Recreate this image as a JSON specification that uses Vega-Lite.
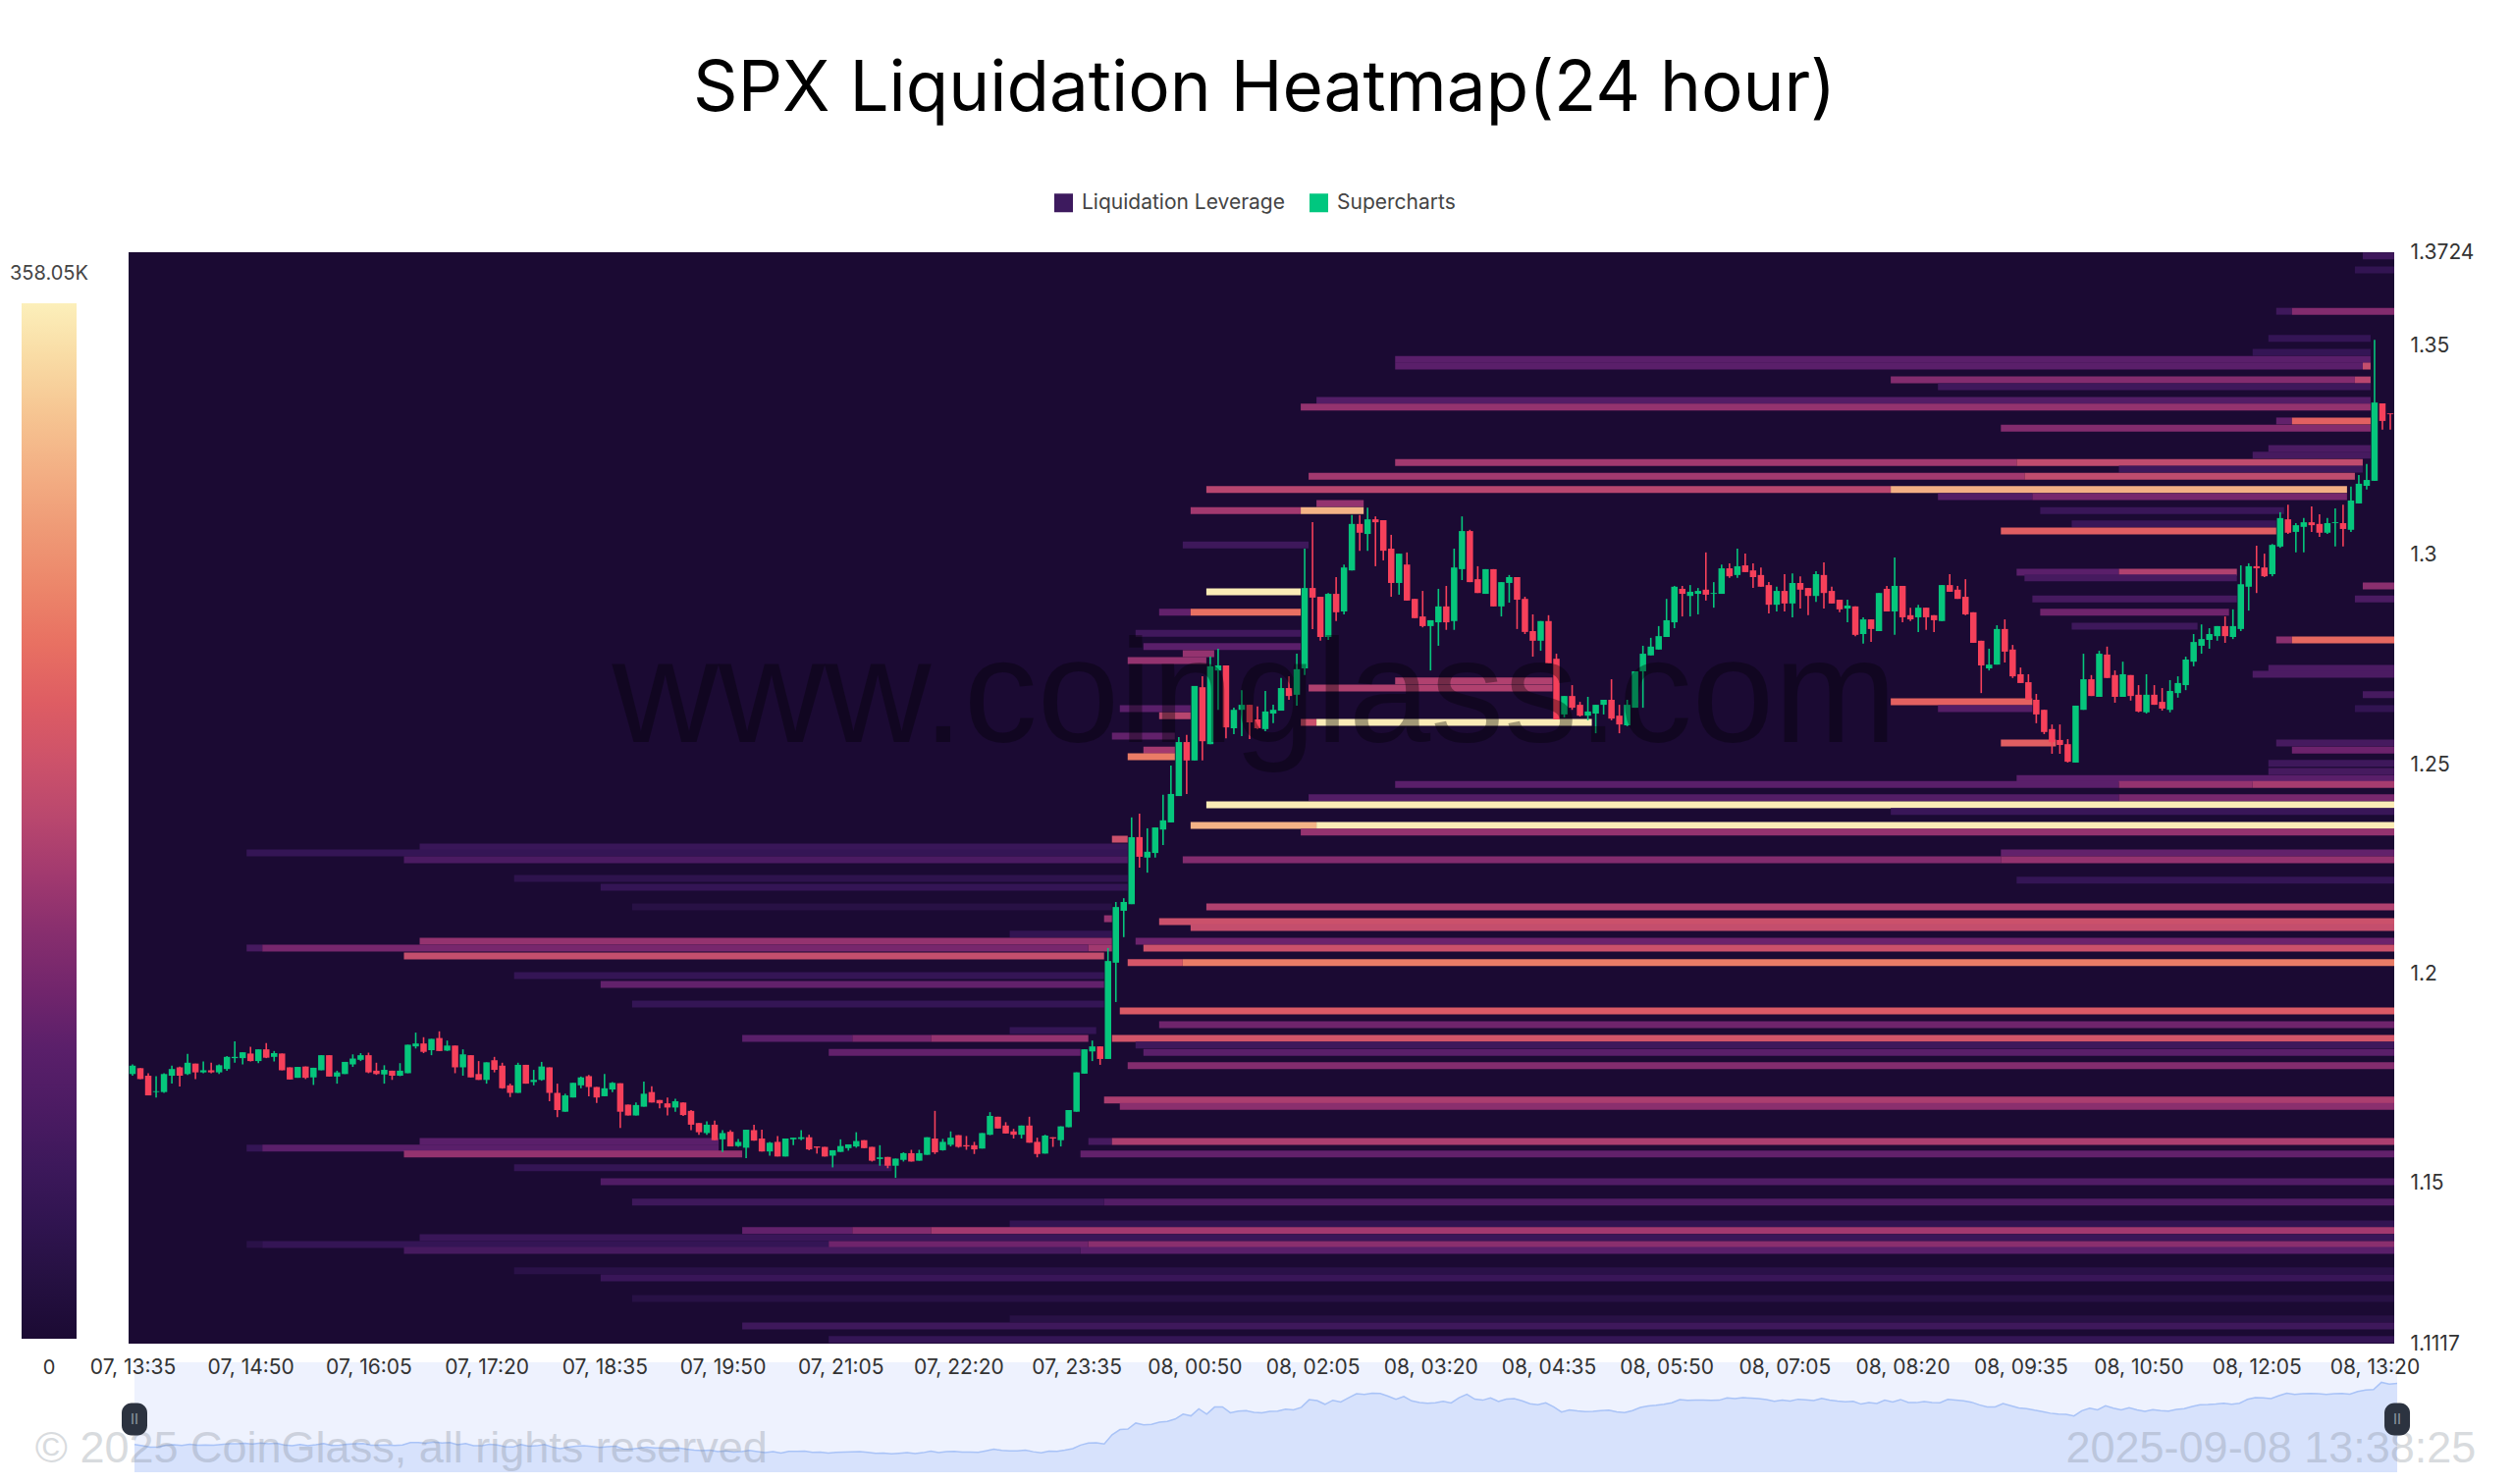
{"$schema":"https://vega.github.io/schema/vega-lite/v6.json","background":"white","padding":{"left":10,"top":56,"right":0,"bottom":0},
"title":{"text":"SPX Liquidation Heatmap(24 hour)","font":"Inter","fontSize":71,"fontWeight":400,"color":"#000000","anchor":"middle","offset":68,"dx":22},
"config":{"view":{"stroke":null},"font":"Inter"},
"datasets":{"candles":[
{"t":"2025-09-07T13:35Z","o":1.1761,"h":1.1784,"l":1.1757,"c":1.1781},{"t":"2025-09-07T13:40Z","o":1.1775,"h":1.1775,"l":1.1749,"c":1.1749},{"t":"2025-09-07T13:45Z","o":1.1757,"h":1.1763,"l":1.1710,"c":1.1710},{"t":"2025-09-07T13:50Z","o":1.1718,"h":1.1756,"l":1.1705,"c":1.1720},{"t":"2025-09-07T13:55Z","o":1.1718,"h":1.1763,"l":1.1716,"c":1.1761},
{"t":"2025-09-07T14:00Z","o":1.1757,"h":1.1781,"l":1.1738,"c":1.1773},{"t":"2025-09-07T14:05Z","o":1.1777,"h":1.1779,"l":1.1731,"c":1.1757},{"t":"2025-09-07T14:10Z","o":1.1761,"h":1.1809,"l":1.1759,"c":1.1788},{"t":"2025-09-07T14:15Z","o":1.1786,"h":1.1786,"l":1.1749,"c":1.1765},{"t":"2025-09-07T14:20Z","o":1.1765,"h":1.1791,"l":1.1763,"c":1.1770},{"t":"2025-09-07T14:25Z","o":1.1770,"h":1.1788,"l":1.1763,"c":1.1765},{"t":"2025-09-07T14:30Z","o":1.1765,"h":1.1784,"l":1.1761,"c":1.1782},{"t":"2025-09-07T14:35Z","o":1.1773,"h":1.1804,"l":1.1769,"c":1.1802},{"t":"2025-09-07T14:40Z","o":1.1799,"h":1.1839,"l":1.1788,"c":1.1802},{"t":"2025-09-07T14:45Z","o":1.1799,"h":1.1813,"l":1.1784,"c":1.1813},{"t":"2025-09-07T14:50Z","o":1.1810,"h":1.1826,"l":1.1791,"c":1.1792},{"t":"2025-09-07T14:55Z","o":1.1792,"h":1.1820,"l":1.1787,"c":1.1820},
{"t":"2025-09-07T15:00Z","o":1.1820,"h":1.1835,"l":1.1799,"c":1.1800},{"t":"2025-09-07T15:05Z","o":1.1802,"h":1.1816,"l":1.1791,"c":1.1811},{"t":"2025-09-07T15:10Z","o":1.1810,"h":1.1810,"l":1.1770,"c":1.1770},{"t":"2025-09-07T15:15Z","o":1.1777,"h":1.1777,"l":1.1748,"c":1.1748},{"t":"2025-09-07T15:20Z","o":1.1752,"h":1.1778,"l":1.1752,"c":1.1778},{"t":"2025-09-07T15:25Z","o":1.1779,"h":1.1779,"l":1.1749,"c":1.1752},{"t":"2025-09-07T15:30Z","o":1.1753,"h":1.1776,"l":1.1735,"c":1.1776},{"t":"2025-09-07T15:35Z","o":1.1770,"h":1.1806,"l":1.1770,"c":1.1806},{"t":"2025-09-07T15:40Z","o":1.1806,"h":1.1806,"l":1.1755,"c":1.1755},{"t":"2025-09-07T15:45Z","o":1.1755,"h":1.1769,"l":1.1738,"c":1.1765},{"t":"2025-09-07T15:50Z","o":1.1761,"h":1.1790,"l":1.1761,"c":1.1790},{"t":"2025-09-07T15:55Z","o":1.1784,"h":1.1808,"l":1.1778,"c":1.1798},
{"t":"2025-09-07T16:00Z","o":1.1795,"h":1.1811,"l":1.1792,"c":1.1806},{"t":"2025-09-07T16:05Z","o":1.1806,"h":1.1812,"l":1.1763,"c":1.1765},{"t":"2025-09-07T16:10Z","o":1.1769,"h":1.1788,"l":1.1759,"c":1.1761},{"t":"2025-09-07T16:15Z","o":1.1760,"h":1.1782,"l":1.1738,"c":1.1771},{"t":"2025-09-07T16:20Z","o":1.1769,"h":1.1769,"l":1.1747,"c":1.1757},{"t":"2025-09-07T16:25Z","o":1.1757,"h":1.1787,"l":1.1756,"c":1.1769},{"t":"2025-09-07T16:30Z","o":1.1763,"h":1.1831,"l":1.1763,"c":1.1831},{"t":"2025-09-07T16:35Z","o":1.1827,"h":1.1860,"l":1.1822,"c":1.1834},{"t":"2025-09-07T16:40Z","o":1.1834,"h":1.1849,"l":1.1811,"c":1.1814},{"t":"2025-09-07T16:45Z","o":1.1818,"h":1.1845,"l":1.1806,"c":1.1845},{"t":"2025-09-07T16:50Z","o":1.1847,"h":1.1863,"l":1.1816,"c":1.1816},{"t":"2025-09-07T16:55Z","o":1.1817,"h":1.1841,"l":1.1816,"c":1.1829},
{"t":"2025-09-07T17:00Z","o":1.1829,"h":1.1829,"l":1.1763,"c":1.1777},{"t":"2025-09-07T17:05Z","o":1.1777,"h":1.1820,"l":1.1757,"c":1.1808},{"t":"2025-09-07T17:10Z","o":1.1806,"h":1.1806,"l":1.1753,"c":1.1753},{"t":"2025-09-07T17:15Z","o":1.1761,"h":1.1792,"l":1.1747,"c":1.1747},{"t":"2025-09-07T17:20Z","o":1.1747,"h":1.1789,"l":1.1738,"c":1.1789},{"t":"2025-09-07T17:25Z","o":1.1794,"h":1.1802,"l":1.1765,"c":1.1771},{"t":"2025-09-07T17:30Z","o":1.1781,"h":1.1788,"l":1.1726,"c":1.1727},{"t":"2025-09-07T17:35Z","o":1.1734,"h":1.1738,"l":1.1706,"c":1.1716},{"t":"2025-09-07T17:40Z","o":1.1716,"h":1.1788,"l":1.1716,"c":1.1783},{"t":"2025-09-07T17:45Z","o":1.1783,"h":1.1783,"l":1.1738,"c":1.1738},{"t":"2025-09-07T17:50Z","o":1.1742,"h":1.1771,"l":1.1734,"c":1.1747},{"t":"2025-09-07T17:55Z","o":1.1747,"h":1.1790,"l":1.1745,"c":1.1779},
{"t":"2025-09-07T18:00Z","o":1.1777,"h":1.1777,"l":1.1696,"c":1.1716},{"t":"2025-09-07T18:05Z","o":1.1716,"h":1.1738,"l":1.1658,"c":1.1675},{"t":"2025-09-07T18:10Z","o":1.1671,"h":1.1714,"l":1.1671,"c":1.1710},{"t":"2025-09-07T18:15Z","o":1.1705,"h":1.1740,"l":1.1705,"c":1.1740},{"t":"2025-09-07T18:20Z","o":1.1734,"h":1.1755,"l":1.1727,"c":1.1753},{"t":"2025-09-07T18:25Z","o":1.1756,"h":1.1759,"l":1.1708,"c":1.1730},{"t":"2025-09-07T18:30Z","o":1.1730,"h":1.1730,"l":1.1692,"c":1.1705},{"t":"2025-09-07T18:35Z","o":1.1708,"h":1.1761,"l":1.1708,"c":1.1727},{"t":"2025-09-07T18:40Z","o":1.1724,"h":1.1742,"l":1.1718,"c":1.1740},{"t":"2025-09-07T18:45Z","o":1.1739,"h":1.1739,"l":1.1632,"c":1.1671},{"t":"2025-09-07T18:50Z","o":1.1688,"h":1.1688,"l":1.1662,"c":1.1662},{"t":"2025-09-07T18:55Z","o":1.1662,"h":1.1693,"l":1.1662,"c":1.1687},
{"t":"2025-09-07T19:00Z","o":1.1683,"h":1.1743,"l":1.1683,"c":1.1714},{"t":"2025-09-07T19:05Z","o":1.1718,"h":1.1732,"l":1.1693,"c":1.1693},{"t":"2025-09-07T19:10Z","o":1.1699,"h":1.1699,"l":1.1679,"c":1.1691},{"t":"2025-09-07T19:15Z","o":1.1691,"h":1.1705,"l":1.1662,"c":1.1681},{"t":"2025-09-07T19:20Z","o":1.1681,"h":1.1702,"l":1.1671,"c":1.1696},{"t":"2025-09-07T19:25Z","o":1.1693,"h":1.1693,"l":1.1661,"c":1.1663},{"t":"2025-09-07T19:30Z","o":1.1673,"h":1.1675,"l":1.1627,"c":1.1640},{"t":"2025-09-07T19:35Z","o":1.1644,"h":1.1644,"l":1.1616,"c":1.1622},{"t":"2025-09-07T19:40Z","o":1.1620,"h":1.1648,"l":1.1616,"c":1.1640},{"t":"2025-09-07T19:45Z","o":1.1640,"h":1.1650,"l":1.1603,"c":1.1603},{"t":"2025-09-07T19:50Z","o":1.1605,"h":1.1627,"l":1.1575,"c":1.1620},{"t":"2025-09-07T19:55Z","o":1.1623,"h":1.1627,"l":1.1588,"c":1.1588},
{"t":"2025-09-07T20:00Z","o":1.1589,"h":1.1606,"l":1.1587,"c":1.1599},{"t":"2025-09-07T20:05Z","o":1.1585,"h":1.1628,"l":1.1560,"c":1.1628},{"t":"2025-09-07T20:10Z","o":1.1627,"h":1.1640,"l":1.1602,"c":1.1602},{"t":"2025-09-07T20:15Z","o":1.1607,"h":1.1628,"l":1.1576,"c":1.1576},{"t":"2025-09-07T20:20Z","o":1.1576,"h":1.1599,"l":1.1566,"c":1.1597},{"t":"2025-09-07T20:25Z","o":1.1599,"h":1.1613,"l":1.1564,"c":1.1564},{"t":"2025-09-07T20:30Z","o":1.1564,"h":1.1607,"l":1.1564,"c":1.1607},{"t":"2025-09-07T20:35Z","o":1.1605,"h":1.1609,"l":1.1591,"c":1.1609},{"t":"2025-09-07T20:40Z","o":1.1606,"h":1.1627,"l":1.1603,"c":1.1610},{"t":"2025-09-07T20:45Z","o":1.1610,"h":1.1616,"l":1.1579,"c":1.1581},{"t":"2025-09-07T20:50Z","o":1.1588,"h":1.1588,"l":1.1571,"c":1.1585},{"t":"2025-09-07T20:55Z","o":1.1587,"h":1.1587,"l":1.1564,"c":1.1564},
{"t":"2025-09-07T21:00Z","o":1.1566,"h":1.1579,"l":1.1538,"c":1.1579},{"t":"2025-09-07T21:05Z","o":1.1575,"h":1.1605,"l":1.1575,"c":1.1589},{"t":"2025-09-07T21:10Z","o":1.1584,"h":1.1593,"l":1.1578,"c":1.1593},{"t":"2025-09-07T21:15Z","o":1.1588,"h":1.1622,"l":1.1585,"c":1.1601},{"t":"2025-09-07T21:20Z","o":1.1603,"h":1.1603,"l":1.1584,"c":1.1584},{"t":"2025-09-07T21:25Z","o":1.1587,"h":1.1587,"l":1.1552,"c":1.1554},{"t":"2025-09-07T21:30Z","o":1.1558,"h":1.1591,"l":1.1542,"c":1.1562},{"t":"2025-09-07T21:35Z","o":1.1563,"h":1.1563,"l":1.1536,"c":1.1542},{"t":"2025-09-07T21:40Z","o":1.1542,"h":1.1559,"l":1.1513,"c":1.1559},{"t":"2025-09-07T21:45Z","o":1.1556,"h":1.1574,"l":1.1552,"c":1.1572},{"t":"2025-09-07T21:50Z","o":1.1572,"h":1.1580,"l":1.1552,"c":1.1552},{"t":"2025-09-07T21:55Z","o":1.1554,"h":1.1580,"l":1.1554,"c":1.1572},
{"t":"2025-09-07T22:00Z","o":1.1568,"h":1.1610,"l":1.1568,"c":1.1610},{"t":"2025-09-07T22:05Z","o":1.1607,"h":1.1673,"l":1.1570,"c":1.1574},{"t":"2025-09-07T22:10Z","o":1.1579,"h":1.1606,"l":1.1578,"c":1.1599},{"t":"2025-09-07T22:15Z","o":1.1592,"h":1.1624,"l":1.1588,"c":1.1609},{"t":"2025-09-07T22:20Z","o":1.1615,"h":1.1615,"l":1.1585,"c":1.1587},{"t":"2025-09-07T22:25Z","o":1.1591,"h":1.1613,"l":1.1580,"c":1.1588},{"t":"2025-09-07T22:30Z","o":1.1591,"h":1.1599,"l":1.1570,"c":1.1581},{"t":"2025-09-07T22:35Z","o":1.1583,"h":1.1620,"l":1.1583,"c":1.1620},{"t":"2025-09-07T22:40Z","o":1.1616,"h":1.1670,"l":1.1615,"c":1.1661},{"t":"2025-09-07T22:45Z","o":1.1659,"h":1.1659,"l":1.1631,"c":1.1631},{"t":"2025-09-07T22:50Z","o":1.1638,"h":1.1646,"l":1.1619,"c":1.1619},{"t":"2025-09-07T22:55Z","o":1.1624,"h":1.1630,"l":1.1607,"c":1.1616},
{"t":"2025-09-07T23:00Z","o":1.1616,"h":1.1638,"l":1.1607,"c":1.1638},{"t":"2025-09-07T23:05Z","o":1.1638,"h":1.1659,"l":1.1597,"c":1.1597},{"t":"2025-09-07T23:10Z","o":1.1599,"h":1.1609,"l":1.1562,"c":1.1570},{"t":"2025-09-07T23:15Z","o":1.1571,"h":1.1616,"l":1.1571,"c":1.1614},{"t":"2025-09-07T23:20Z","o":1.1610,"h":1.1610,"l":1.1587,"c":1.1607},{"t":"2025-09-07T23:25Z","o":1.1603,"h":1.1636,"l":1.1588,"c":1.1636},{"t":"2025-09-07T23:30Z","o":1.1634,"h":1.1675,"l":1.1634,"c":1.1675},{"t":"2025-09-07T23:35Z","o":1.1671,"h":1.1765,"l":1.1671,"c":1.1765},{"t":"2025-09-07T23:40Z","o":1.1762,"h":1.1820,"l":1.1762,"c":1.1820},{"t":"2025-09-07T23:45Z","o":1.1815,"h":1.1841,"l":1.1792,"c":1.1827},{"t":"2025-09-07T23:50Z","o":1.1827,"h":1.1827,"l":1.1783,"c":1.1797},{"t":"2025-09-07T23:55Z","o":1.1797,"h":1.2062,"l":1.1797,"c":1.2031},
{"t":"2025-09-08T00:00Z","o":1.2027,"h":1.2172,"l":1.1933,"c":1.2160},{"t":"2025-09-08T00:05Z","o":1.2151,"h":1.2181,"l":1.2088,"c":1.2172},{"t":"2025-09-08T00:10Z","o":1.2167,"h":1.2374,"l":1.2167,"c":1.2327},{"t":"2025-09-08T00:15Z","o":1.2327,"h":1.2383,"l":1.2254,"c":1.2280},{"t":"2025-09-08T00:20Z","o":1.2278,"h":1.2348,"l":1.2242,"c":1.2292},{"t":"2025-09-08T00:25Z","o":1.2289,"h":1.2350,"l":1.2278,"c":1.2350},{"t":"2025-09-08T00:30Z","o":1.2345,"h":1.2428,"l":1.2308,"c":1.2367},{"t":"2025-09-08T00:35Z","o":1.2362,"h":1.2498,"l":1.2362,"c":1.2430},{"t":"2025-09-08T00:40Z","o":1.2425,"h":1.2566,"l":1.2425,"c":1.2554},{"t":"2025-09-08T00:45Z","o":1.2554,"h":1.2571,"l":1.2430,"c":1.2510},{"t":"2025-09-08T00:50Z","o":1.2510,"h":1.2688,"l":1.2510,"c":1.2688},{"t":"2025-09-08T00:55Z","o":1.2685,"h":1.2711,"l":1.2510,"c":1.2556},
{"t":"2025-09-08T01:00Z","o":1.2549,"h":1.2758,"l":1.2549,"c":1.2735},{"t":"2025-09-08T01:05Z","o":1.2725,"h":1.2777,"l":1.2631,"c":1.2737},{"t":"2025-09-08T01:10Z","o":1.2737,"h":1.2737,"l":1.2563,"c":1.2589},{"t":"2025-09-08T01:15Z","o":1.2587,"h":1.2636,"l":1.2573,"c":1.2631},{"t":"2025-09-08T01:20Z","o":1.2631,"h":1.2678,"l":1.2568,"c":1.2643},{"t":"2025-09-08T01:25Z","o":1.2643,"h":1.2643,"l":1.2561,"c":1.2601},{"t":"2025-09-08T01:30Z","o":1.2608,"h":1.2639,"l":1.2585,"c":1.2587},{"t":"2025-09-08T01:35Z","o":1.2585,"h":1.2676,"l":1.2580,"c":1.2627},{"t":"2025-09-08T01:40Z","o":1.2622,"h":1.2643,"l":1.2599,"c":1.2631},{"t":"2025-09-08T01:45Z","o":1.2629,"h":1.2707,"l":1.2629,"c":1.2683},{"t":"2025-09-08T01:50Z","o":1.2683,"h":1.2711,"l":1.2655,"c":1.2664},{"t":"2025-09-08T01:55Z","o":1.2667,"h":1.2765,"l":1.2641,"c":1.2728},
{"t":"2025-09-08T02:00Z","o":1.2730,"h":1.3016,"l":1.2714,"c":1.2922},{"t":"2025-09-08T02:05Z","o":1.2922,"h":1.3079,"l":1.2824,"c":1.2899},{"t":"2025-09-08T02:10Z","o":1.2901,"h":1.2901,"l":1.2796,"c":1.2805},{"t":"2025-09-08T02:15Z","o":1.2805,"h":1.2910,"l":1.2798,"c":1.2908},{"t":"2025-09-08T02:20Z","o":1.2908,"h":1.2948,"l":1.2843,"c":1.2864},{"t":"2025-09-08T02:25Z","o":1.2866,"h":1.2978,"l":1.2859,"c":1.2971},{"t":"2025-09-08T02:30Z","o":1.2964,"h":1.3096,"l":1.2964,"c":1.3075},{"t":"2025-09-08T02:35Z","o":1.3075,"h":1.3096,"l":1.3011,"c":1.3054},{"t":"2025-09-08T02:40Z","o":1.3051,"h":1.3114,"l":1.3011,"c":1.3086},{"t":"2025-09-08T02:45Z","o":1.3086,"h":1.3093,"l":1.2974,"c":1.3079},{"t":"2025-09-08T02:50Z","o":1.3084,"h":1.3084,"l":1.2988,"c":1.3011},{"t":"2025-09-08T02:55Z","o":1.3016,"h":1.3049,"l":1.2901,"c":1.2934},
{"t":"2025-09-08T03:00Z","o":1.2934,"h":1.3004,"l":1.2906,"c":1.3004},{"t":"2025-09-08T03:05Z","o":1.2978,"h":1.3007,"l":1.2892,"c":1.2892},{"t":"2025-09-08T03:10Z","o":1.2896,"h":1.2896,"l":1.2850,"c":1.2850},{"t":"2025-09-08T03:15Z","o":1.2854,"h":1.2915,"l":1.2828,"c":1.2831},{"t":"2025-09-08T03:20Z","o":1.2831,"h":1.2845,"l":1.2725,"c":1.2845},{"t":"2025-09-08T03:25Z","o":1.2840,"h":1.2920,"l":1.2784,"c":1.2878},{"t":"2025-09-08T03:30Z","o":1.2878,"h":1.2927,"l":1.2822,"c":1.2840},{"t":"2025-09-08T03:35Z","o":1.2843,"h":1.3016,"l":1.2822,"c":1.2971},{"t":"2025-09-08T03:40Z","o":1.2967,"h":1.3093,"l":1.2941,"c":1.3058},{"t":"2025-09-08T03:45Z","o":1.3058,"h":1.3061,"l":1.2936,"c":1.2936},{"t":"2025-09-08T03:50Z","o":1.2943,"h":1.2974,"l":1.2910,"c":1.2910},{"t":"2025-09-08T03:55Z","o":1.2908,"h":1.2967,"l":1.2908,"c":1.2967},
{"t":"2025-09-08T04:00Z","o":1.2967,"h":1.2967,"l":1.2878,"c":1.2878},{"t":"2025-09-08T04:05Z","o":1.2878,"h":1.2936,"l":1.2854,"c":1.2936},{"t":"2025-09-08T04:10Z","o":1.2934,"h":1.2953,"l":1.2887,"c":1.2948},{"t":"2025-09-08T04:15Z","o":1.2948,"h":1.2948,"l":1.2824,"c":1.2894},{"t":"2025-09-08T04:20Z","o":1.2896,"h":1.2901,"l":1.2812,"c":1.2817},{"t":"2025-09-08T04:25Z","o":1.2819,"h":1.2859,"l":1.2758,"c":1.2796},{"t":"2025-09-08T04:30Z","o":1.2796,"h":1.2843,"l":1.2772,"c":1.2843},{"t":"2025-09-08T04:35Z","o":1.2843,"h":1.2857,"l":1.2742,"c":1.2742},{"t":"2025-09-08T04:40Z","o":1.2753,"h":1.2765,"l":1.2608,"c":1.2608},{"t":"2025-09-08T04:45Z","o":1.2620,"h":1.2664,"l":1.2613,"c":1.2664},{"t":"2025-09-08T04:50Z","o":1.2664,"h":1.2690,"l":1.2631,"c":1.2636},{"t":"2025-09-08T04:55Z","o":1.2643,"h":1.2650,"l":1.2615,"c":1.2617},
{"t":"2025-09-08T05:00Z","o":1.2617,"h":1.2662,"l":1.2606,"c":1.2627},{"t":"2025-09-08T05:05Z","o":1.2622,"h":1.2643,"l":1.2575,"c":1.2643},{"t":"2025-09-08T05:10Z","o":1.2643,"h":1.2655,"l":1.2620,"c":1.2655},{"t":"2025-09-08T05:15Z","o":1.2655,"h":1.2704,"l":1.2606,"c":1.2610},{"t":"2025-09-08T05:20Z","o":1.2617,"h":1.2643,"l":1.2575,"c":1.2596},{"t":"2025-09-08T05:25Z","o":1.2594,"h":1.2655,"l":1.2592,"c":1.2643},{"t":"2025-09-08T05:30Z","o":1.2636,"h":1.2723,"l":1.2636,"c":1.2723},{"t":"2025-09-08T05:35Z","o":1.2723,"h":1.2784,"l":1.2636,"c":1.2765},{"t":"2025-09-08T05:40Z","o":1.2761,"h":1.2803,"l":1.2761,"c":1.2782},{"t":"2025-09-08T05:45Z","o":1.2775,"h":1.2831,"l":1.2775,"c":1.2807},{"t":"2025-09-08T05:50Z","o":1.2805,"h":1.2896,"l":1.2805,"c":1.2845},{"t":"2025-09-08T05:55Z","o":1.2840,"h":1.2927,"l":1.2826,"c":1.2925},
{"t":"2025-09-08T06:00Z","o":1.2920,"h":1.2927,"l":1.2854,"c":1.2908},{"t":"2025-09-08T06:05Z","o":1.2903,"h":1.2929,"l":1.2854,"c":1.2913},{"t":"2025-09-08T06:10Z","o":1.2908,"h":1.2922,"l":1.2859,"c":1.2915},{"t":"2025-09-08T06:15Z","o":1.2918,"h":1.3007,"l":1.2892,"c":1.2906},{"t":"2025-09-08T06:20Z","o":1.2908,"h":1.2936,"l":1.2875,"c":1.2910},{"t":"2025-09-08T06:25Z","o":1.2908,"h":1.2978,"l":1.2908,"c":1.2969},{"t":"2025-09-08T06:30Z","o":1.2969,"h":1.2981,"l":1.2946,"c":1.2950},{"t":"2025-09-08T06:35Z","o":1.2953,"h":1.3016,"l":1.2946,"c":1.2974},{"t":"2025-09-08T06:40Z","o":1.2976,"h":1.3004,"l":1.2960,"c":1.2960},{"t":"2025-09-08T06:45Z","o":1.2964,"h":1.2981,"l":1.2922,"c":1.2948},{"t":"2025-09-08T06:50Z","o":1.2953,"h":1.2971,"l":1.2925,"c":1.2925},{"t":"2025-09-08T06:55Z","o":1.2929,"h":1.2936,"l":1.2861,"c":1.2882},
{"t":"2025-09-08T07:00Z","o":1.2882,"h":1.2925,"l":1.2866,"c":1.2915},{"t":"2025-09-08T07:05Z","o":1.2915,"h":1.2955,"l":1.2866,"c":1.2885},{"t":"2025-09-08T07:10Z","o":1.2885,"h":1.2957,"l":1.2852,"c":1.2934},{"t":"2025-09-08T07:15Z","o":1.2934,"h":1.2950,"l":1.2873,"c":1.2918},{"t":"2025-09-08T07:20Z","o":1.2922,"h":1.2922,"l":1.2857,"c":1.2903},{"t":"2025-09-08T07:25Z","o":1.2903,"h":1.2962,"l":1.2889,"c":1.2955},{"t":"2025-09-08T07:30Z","o":1.2953,"h":1.2983,"l":1.2873,"c":1.2910},{"t":"2025-09-08T07:35Z","o":1.2915,"h":1.2925,"l":1.2885,"c":1.2885},{"t":"2025-09-08T07:40Z","o":1.2894,"h":1.2894,"l":1.2864,"c":1.2871},{"t":"2025-09-08T07:45Z","o":1.2873,"h":1.2894,"l":1.2840,"c":1.2880},{"t":"2025-09-08T07:50Z","o":1.2878,"h":1.2878,"l":1.2807,"c":1.2810},{"t":"2025-09-08T07:55Z","o":1.2812,"h":1.2852,"l":1.2789,"c":1.2847},
{"t":"2025-09-08T08:00Z","o":1.2847,"h":1.2847,"l":1.2793,"c":1.2824},{"t":"2025-09-08T08:05Z","o":1.2819,"h":1.2910,"l":1.2819,"c":1.2910},{"t":"2025-09-08T08:10Z","o":1.2920,"h":1.2927,"l":1.2866,"c":1.2866},{"t":"2025-09-08T08:15Z","o":1.2866,"h":1.2995,"l":1.2810,"c":1.2927},{"t":"2025-09-08T08:20Z","o":1.2927,"h":1.2927,"l":1.2840,"c":1.2852},{"t":"2025-09-08T08:25Z","o":1.2857,"h":1.2875,"l":1.2843,"c":1.2847},{"t":"2025-09-08T08:30Z","o":1.2852,"h":1.2882,"l":1.2817,"c":1.2875},{"t":"2025-09-08T08:35Z","o":1.2875,"h":1.2875,"l":1.2822,"c":1.2852},{"t":"2025-09-08T08:40Z","o":1.2857,"h":1.2857,"l":1.2817,"c":1.2845},{"t":"2025-09-08T08:45Z","o":1.2843,"h":1.2929,"l":1.2843,"c":1.2929},{"t":"2025-09-08T08:50Z","o":1.2929,"h":1.2955,"l":1.2913,"c":1.2913},{"t":"2025-09-08T08:55Z","o":1.2918,"h":1.2927,"l":1.2896,"c":1.2896},
{"t":"2025-09-08T09:00Z","o":1.2901,"h":1.2943,"l":1.2857,"c":1.2859},{"t":"2025-09-08T09:05Z","o":1.2864,"h":1.2864,"l":1.2791,"c":1.2791},{"t":"2025-09-08T09:10Z","o":1.2796,"h":1.2796,"l":1.2671,"c":1.2737},{"t":"2025-09-08T09:15Z","o":1.2730,"h":1.2777,"l":1.2725,"c":1.2739},{"t":"2025-09-08T09:20Z","o":1.2739,"h":1.2833,"l":1.2739,"c":1.2824},{"t":"2025-09-08T09:25Z","o":1.2824,"h":1.2847,"l":1.2744,"c":1.2770},{"t":"2025-09-08T09:30Z","o":1.2775,"h":1.2786,"l":1.2707,"c":1.2711},{"t":"2025-09-08T09:35Z","o":1.2716,"h":1.2732,"l":1.2695,"c":1.2695},{"t":"2025-09-08T09:40Z","o":1.2697,"h":1.2716,"l":1.2655,"c":1.2655},{"t":"2025-09-08T09:45Z","o":1.2655,"h":1.2669,"l":1.2599,"c":1.2620},{"t":"2025-09-08T09:50Z","o":1.2631,"h":1.2631,"l":1.2573,"c":1.2578},{"t":"2025-09-08T09:55Z","o":1.2585,"h":1.2596,"l":1.2526,"c":1.2554},
{"t":"2025-09-08T10:00Z","o":1.2559,"h":1.2596,"l":1.2526,"c":1.2547},{"t":"2025-09-08T10:05Z","o":1.2549,"h":1.2561,"l":1.2505,"c":1.2507},{"t":"2025-09-08T10:10Z","o":1.2505,"h":1.2641,"l":1.2505,"c":1.2641},{"t":"2025-09-08T10:15Z","o":1.2631,"h":1.2765,"l":1.2631,"c":1.2704},{"t":"2025-09-08T10:20Z","o":1.2704,"h":1.2714,"l":1.2664,"c":1.2664},{"t":"2025-09-08T10:25Z","o":1.2662,"h":1.2772,"l":1.2662,"c":1.2765},{"t":"2025-09-08T10:30Z","o":1.2763,"h":1.2782,"l":1.2707,"c":1.2707},{"t":"2025-09-08T10:35Z","o":1.2714,"h":1.2725,"l":1.2648,"c":1.2662},{"t":"2025-09-08T10:40Z","o":1.2662,"h":1.2746,"l":1.2662,"c":1.2716},{"t":"2025-09-08T10:45Z","o":1.2714,"h":1.2714,"l":1.2653,"c":1.2664},{"t":"2025-09-08T10:50Z","o":1.2667,"h":1.2690,"l":1.2625,"c":1.2627},{"t":"2025-09-08T10:55Z","o":1.2625,"h":1.2716,"l":1.2622,"c":1.2667},
{"t":"2025-09-08T11:00Z","o":1.2667,"h":1.2690,"l":1.2643,"c":1.2643},{"t":"2025-09-08T11:05Z","o":1.2650,"h":1.2683,"l":1.2629,"c":1.2634},{"t":"2025-09-08T11:10Z","o":1.2631,"h":1.2702,"l":1.2625,"c":1.2676},{"t":"2025-09-08T11:15Z","o":1.2671,"h":1.2711,"l":1.2660,"c":1.2695},{"t":"2025-09-08T11:20Z","o":1.2690,"h":1.2758,"l":1.2678,"c":1.2751},{"t":"2025-09-08T11:25Z","o":1.2746,"h":1.2812,"l":1.2735,"c":1.2793},{"t":"2025-09-08T11:30Z","o":1.2784,"h":1.2835,"l":1.2765,"c":1.2800},{"t":"2025-09-08T11:35Z","o":1.2798,"h":1.2826,"l":1.2777,"c":1.2812},{"t":"2025-09-08T11:40Z","o":1.2807,"h":1.2831,"l":1.2796,"c":1.2831},{"t":"2025-09-08T11:45Z","o":1.2831,"h":1.2854,"l":1.2791,"c":1.2807},{"t":"2025-09-08T11:50Z","o":1.2805,"h":1.2871,"l":1.2800,"c":1.2831},{"t":"2025-09-08T11:55Z","o":1.2824,"h":1.2976,"l":1.2819,"c":1.2931},
{"t":"2025-09-08T12:00Z","o":1.2925,"h":1.2981,"l":1.2868,"c":1.2974},{"t":"2025-09-08T12:05Z","o":1.2974,"h":1.3023,"l":1.2910,"c":1.2969},{"t":"2025-09-08T12:10Z","o":1.2971,"h":1.3004,"l":1.2948,"c":1.2950},{"t":"2025-09-08T12:15Z","o":1.2955,"h":1.3027,"l":1.2950,"c":1.3025},{"t":"2025-09-08T12:20Z","o":1.3021,"h":1.3103,"l":1.3018,"c":1.3089},{"t":"2025-09-08T12:25Z","o":1.3086,"h":1.3121,"l":1.3051,"c":1.3054},{"t":"2025-09-08T12:30Z","o":1.3056,"h":1.3077,"l":1.3007,"c":1.3072},{"t":"2025-09-08T12:35Z","o":1.3068,"h":1.3089,"l":1.3007,"c":1.3079},{"t":"2025-09-08T12:40Z","o":1.3079,"h":1.3117,"l":1.3056,"c":1.3072},{"t":"2025-09-08T12:45Z","o":1.3075,"h":1.3098,"l":1.3044,"c":1.3054},{"t":"2025-09-08T12:50Z","o":1.3054,"h":1.3089,"l":1.3051,"c":1.3077},{"t":"2025-09-08T12:55Z","o":1.3077,"h":1.3112,"l":1.3021,"c":1.3079},
{"t":"2025-09-08T13:00Z","o":1.3077,"h":1.3121,"l":1.3021,"c":1.3063},{"t":"2025-09-08T13:05Z","o":1.3061,"h":1.3164,"l":1.3056,"c":1.3131},{"t":"2025-09-08T13:10Z","o":1.3124,"h":1.3192,"l":1.3124,"c":1.3171},{"t":"2025-09-08T13:15Z","o":1.3166,"h":1.3218,"l":1.3157,"c":1.3180},{"t":"2025-09-08T13:20Z","o":1.3178,"h":1.3515,"l":1.3178,"c":1.3365},{"t":"2025-09-08T13:25Z","o":1.3363,"h":1.3363,"l":1.3300,"c":1.3321},{"t":"2025-09-08T13:30Z","o":1.3339,"h":1.3339,"l":1.3300,"c":1.3337}
]},
"spacing":19,"bounds":"flush",
"vconcat":[
{"width":2308,"height":1112,"view":{"fill":"#1b0a33","stroke":null},
"resolve":{"scale":{"color":"independent"}},
"layer":[
{"data":{"format":{"parse":{"s":"date","e":"date"}},"values":[
{"s":"2025-09-08T13:12:30Z","e":"2025-09-08T13:32:30Z","p":1.3715,"v":61000},
{"s":"2025-09-08T13:07:30Z","e":"2025-09-08T13:32:30Z","p":1.3682,"v":43000},
{"s":"2025-09-08T12:17:30Z","e":"2025-09-08T12:27:30Z","p":1.3583,"v":61000},
{"s":"2025-09-08T12:27:30Z","e":"2025-09-08T13:32:30Z","p":1.3583,"v":136000},
{"s":"2025-09-08T12:12:30Z","e":"2025-09-08T13:17:30Z","p":1.3518,"v":47000},
{"s":"2025-09-08T12:02:30Z","e":"2025-09-08T13:17:30Z","p":1.3485,"v":47000},
{"s":"2025-09-08T02:57:30Z","e":"2025-09-08T13:17:30Z","p":1.3468,"v":100000},
{"s":"2025-09-08T02:57:30Z","e":"2025-09-08T13:12:30Z","p":1.3452,"v":100000},
{"s":"2025-09-08T13:12:30Z","e":"2025-09-08T13:17:30Z","p":1.3452,"v":190000},
{"s":"2025-09-08T08:12:30Z","e":"2025-09-08T13:07:30Z","p":1.3419,"v":136000},
{"s":"2025-09-08T13:07:30Z","e":"2025-09-08T13:17:30Z","p":1.3419,"v":179000},
{"s":"2025-09-08T08:42:30Z","e":"2025-09-08T13:17:30Z","p":1.3403,"v":61000},
{"s":"2025-09-08T02:07:30Z","e":"2025-09-08T13:17:30Z","p":1.3370,"v":90000},
{"s":"2025-09-08T01:57:30Z","e":"2025-09-08T13:17:30Z","p":1.3354,"v":150000},
{"s":"2025-09-08T12:17:30Z","e":"2025-09-08T12:27:30Z","p":1.3321,"v":107000},
{"s":"2025-09-08T12:27:30Z","e":"2025-09-08T13:17:30Z","p":1.3321,"v":225000},
{"s":"2025-09-08T09:22:30Z","e":"2025-09-08T13:17:30Z","p":1.3304,"v":136000},
{"s":"2025-09-08T12:12:30Z","e":"2025-09-08T13:17:30Z","p":1.3255,"v":79000},
{"s":"2025-09-08T12:02:30Z","e":"2025-09-08T13:17:30Z","p":1.3239,"v":72000},
{"s":"2025-09-08T02:57:30Z","e":"2025-09-08T09:32:30Z","p":1.3222,"v":161000},
{"s":"2025-09-08T09:32:30Z","e":"2025-09-08T13:12:30Z","p":1.3222,"v":186000},
{"s":"2025-09-08T10:37:30Z","e":"2025-09-08T13:12:30Z","p":1.3206,"v":61000},
{"s":"2025-09-08T02:02:30Z","e":"2025-09-08T09:37:30Z","p":1.3189,"v":161000},
{"s":"2025-09-08T09:37:30Z","e":"2025-09-08T13:07:30Z","p":1.3189,"v":186000},
{"s":"2025-09-08T00:57:30Z","e":"2025-09-08T08:12:30Z","p":1.3157,"v":179000},
{"s":"2025-09-08T08:12:30Z","e":"2025-09-08T13:02:30Z","p":1.3157,"v":300000},
{"s":"2025-09-08T08:42:30Z","e":"2025-09-08T09:42:30Z","p":1.3140,"v":90000},
{"s":"2025-09-08T09:42:30Z","e":"2025-09-08T13:02:30Z","p":1.3140,"v":125000},
{"s":"2025-09-08T02:07:30Z","e":"2025-09-08T02:37:30Z","p":1.3124,"v":150000},
{"s":"2025-09-08T00:47:30Z","e":"2025-09-08T01:57:30Z","p":1.3107,"v":161000},
{"s":"2025-09-08T01:57:30Z","e":"2025-09-08T02:37:30Z","p":1.3107,"v":304000},
{"s":"2025-09-08T09:47:30Z","e":"2025-09-08T12:22:30Z","p":1.3107,"v":54000},
{"s":"2025-09-08T10:07:30Z","e":"2025-09-08T12:17:30Z","p":1.3075,"v":54000},
{"s":"2025-09-08T09:22:30Z","e":"2025-09-08T12:17:30Z","p":1.3058,"v":222000},
{"s":"2025-09-08T00:42:30Z","e":"2025-09-08T02:02:30Z","p":1.3025,"v":61000},
{"s":"2025-09-08T09:32:30Z","e":"2025-09-08T10:37:30Z","p":1.2960,"v":100000},
{"s":"2025-09-08T10:37:30Z","e":"2025-09-08T11:52:30Z","p":1.2960,"v":172000},
{"s":"2025-09-08T09:37:30Z","e":"2025-09-08T11:52:30Z","p":1.2946,"v":72000},
{"s":"2025-09-08T13:12:30Z","e":"2025-09-08T13:32:30Z","p":1.2927,"v":143000},
{"s":"2025-09-08T00:57:30Z","e":"2025-09-08T01:57:30Z","p":1.2913,"v":355000},
{"s":"2025-09-08T09:42:30Z","e":"2025-09-08T11:52:30Z","p":1.2896,"v":72000},
{"s":"2025-09-08T13:07:30Z","e":"2025-09-08T13:32:30Z","p":1.2896,"v":79000},
{"s":"2025-09-08T00:27:30Z","e":"2025-09-08T00:47:30Z","p":1.2864,"v":107000},
{"s":"2025-09-08T00:47:30Z","e":"2025-09-08T01:57:30Z","p":1.2864,"v":240000},
{"s":"2025-09-08T09:47:30Z","e":"2025-09-08T11:47:30Z","p":1.2864,"v":118000},
{"s":"2025-09-08T10:07:30Z","e":"2025-09-08T11:27:30Z","p":1.2831,"v":61000},
{"s":"2025-09-08T00:12:30Z","e":"2025-09-08T01:57:30Z","p":1.2814,"v":64000},
{"s":"2025-09-08T12:17:30Z","e":"2025-09-08T12:27:30Z","p":1.2798,"v":143000},
{"s":"2025-09-08T12:27:30Z","e":"2025-09-08T13:32:30Z","p":1.2798,"v":233000},
{"s":"2025-09-08T00:17:30Z","e":"2025-09-08T01:57:30Z","p":1.2782,"v":100000},
{"s":"2025-09-08T00:42:30Z","e":"2025-09-08T01:02:30Z","p":1.2765,"v":150000},
{"s":"2025-09-08T00:07:30Z","e":"2025-09-08T00:57:30Z","p":1.2749,"v":150000},
{"s":"2025-09-08T12:12:30Z","e":"2025-09-08T13:32:30Z","p":1.2730,"v":79000},
{"s":"2025-09-08T12:02:30Z","e":"2025-09-08T13:32:30Z","p":1.2716,"v":79000},
{"s":"2025-09-08T02:57:30Z","e":"2025-09-08T04:37:30Z","p":1.2700,"v":172000},
{"s":"2025-09-08T02:02:30Z","e":"2025-09-08T04:37:30Z","p":1.2683,"v":172000},
{"s":"2025-09-08T13:12:30Z","e":"2025-09-08T13:32:30Z","p":1.2667,"v":72000},
{"s":"2025-09-08T08:12:30Z","e":"2025-09-08T09:42:30Z","p":1.2650,"v":226000},
{"s":"2025-09-08T00:02:30Z","e":"2025-09-08T00:47:30Z","p":1.2634,"v":100000},
{"s":"2025-09-08T08:42:30Z","e":"2025-09-08T09:42:30Z","p":1.2634,"v":90000},
{"s":"2025-09-08T13:07:30Z","e":"2025-09-08T13:32:30Z","p":1.2634,"v":43000},
{"s":"2025-09-08T00:27:30Z","e":"2025-09-08T00:47:30Z","p":1.2617,"v":179000},
{"s":"2025-09-08T01:57:30Z","e":"2025-09-08T02:07:30Z","p":1.2601,"v":197000},
{"s":"2025-09-08T02:07:30Z","e":"2025-09-08T05:02:30Z","p":1.2601,"v":355000},
{"s":"2025-09-07T23:57:30Z","e":"2025-09-08T00:37:30Z","p":1.2568,"v":107000},
{"s":"2025-09-08T09:22:30Z","e":"2025-09-08T09:57:30Z","p":1.2552,"v":222000},
{"s":"2025-09-08T12:17:30Z","e":"2025-09-08T13:32:30Z","p":1.2552,"v":72000},
{"s":"2025-09-08T00:17:30Z","e":"2025-09-08T00:37:30Z","p":1.2535,"v":161000},
{"s":"2025-09-08T12:27:30Z","e":"2025-09-08T13:32:30Z","p":1.2535,"v":115000},
{"s":"2025-09-08T00:07:30Z","e":"2025-09-08T00:37:30Z","p":1.2519,"v":251000},
{"s":"2025-09-08T12:12:30Z","e":"2025-09-08T13:32:30Z","p":1.2503,"v":61000},
{"s":"2025-09-08T12:12:30Z","e":"2025-09-08T13:32:30Z","p":1.2484,"v":72000},
{"s":"2025-09-08T09:32:30Z","e":"2025-09-08T13:32:30Z","p":1.2467,"v":100000},
{"s":"2025-09-08T02:57:30Z","e":"2025-09-08T10:37:30Z","p":1.2453,"v":100000},
{"s":"2025-09-08T10:37:30Z","e":"2025-09-08T12:02:30Z","p":1.2453,"v":150000},
{"s":"2025-09-08T12:02:30Z","e":"2025-09-08T13:32:30Z","p":1.2453,"v":165000},
{"s":"2025-09-08T02:02:30Z","e":"2025-09-08T10:37:30Z","p":1.2421,"v":90000},
{"s":"2025-09-08T10:37:30Z","e":"2025-09-08T13:32:30Z","p":1.2421,"v":125000},
{"s":"2025-09-08T00:57:30Z","e":"2025-09-08T13:32:30Z","p":1.2404,"v":355000},
{"s":"2025-09-08T08:12:30Z","e":"2025-09-08T13:32:30Z","p":1.2388,"v":54000},
{"s":"2025-09-08T00:47:30Z","e":"2025-09-08T02:07:30Z","p":1.2355,"v":304000},
{"s":"2025-09-08T02:07:30Z","e":"2025-09-08T13:32:30Z","p":1.2355,"v":355000},
{"s":"2025-09-08T01:57:30Z","e":"2025-09-08T13:32:30Z","p":1.2339,"v":150000},
{"s":"2025-09-07T23:57:30Z","e":"2025-09-08T00:07:30Z","p":1.2322,"v":197000},
{"s":"2025-09-07T16:37:30Z","e":"2025-09-08T00:07:30Z","p":1.2303,"v":54000},
{"s":"2025-09-07T14:47:30Z","e":"2025-09-08T00:07:30Z","p":1.2289,"v":47000},
{"s":"2025-09-08T09:22:30Z","e":"2025-09-08T13:32:30Z","p":1.2289,"v":107000},
{"s":"2025-09-07T16:27:30Z","e":"2025-09-08T00:07:30Z","p":1.2273,"v":79000},
{"s":"2025-09-08T00:42:30Z","e":"2025-09-08T09:22:30Z","p":1.2273,"v":136000},
{"s":"2025-09-08T09:22:30Z","e":"2025-09-08T13:32:30Z","p":1.2273,"v":150000},
{"s":"2025-09-08T09:32:30Z","e":"2025-09-08T13:32:30Z","p":1.2224,"v":47000},
{"s":"2025-09-07T17:37:30Z","e":"2025-09-08T00:07:30Z","p":1.2228,"v":36000},
{"s":"2025-09-07T18:32:30Z","e":"2025-09-08T00:07:30Z","p":1.2207,"v":47000},
{"s":"2025-09-07T18:52:30Z","e":"2025-09-07T23:57:30Z","p":1.2160,"v":25000},
{"s":"2025-09-08T00:57:30Z","e":"2025-09-08T13:32:30Z","p":1.2160,"v":172000},
{"s":"2025-09-07T23:52:30Z","e":"2025-09-07T23:57:30Z","p":1.2132,"v":150000},
{"s":"2025-09-08T00:27:30Z","e":"2025-09-08T13:32:30Z","p":1.2125,"v":197000},
{"s":"2025-09-08T00:47:30Z","e":"2025-09-08T13:32:30Z","p":1.2111,"v":190000},
{"s":"2025-09-07T22:52:30Z","e":"2025-09-07T23:57:30Z","p":1.2095,"v":43000},
{"s":"2025-09-07T16:37:30Z","e":"2025-09-07T23:57:30Z","p":1.2078,"v":150000},
{"s":"2025-09-08T00:12:30Z","e":"2025-09-08T13:32:30Z","p":1.2078,"v":115000},
{"s":"2025-09-07T14:47:30Z","e":"2025-09-07T14:57:30Z","p":1.2062,"v":72000},
{"s":"2025-09-07T14:57:30Z","e":"2025-09-07T23:42:30Z","p":1.2062,"v":125000},
{"s":"2025-09-07T23:42:30Z","e":"2025-09-07T23:57:30Z","p":1.2062,"v":160000},
{"s":"2025-09-08T00:17:30Z","e":"2025-09-08T13:32:30Z","p":1.2062,"v":197000},
{"s":"2025-09-07T16:27:30Z","e":"2025-09-07T23:52:30Z","p":1.2043,"v":190000},
{"s":"2025-09-08T00:07:30Z","e":"2025-09-08T00:42:30Z","p":1.2027,"v":208000},
{"s":"2025-09-08T00:42:30Z","e":"2025-09-08T13:32:30Z","p":1.2027,"v":251000},
{"s":"2025-09-07T17:37:30Z","e":"2025-09-07T23:52:30Z","p":1.1996,"v":47000},
{"s":"2025-09-07T18:32:30Z","e":"2025-09-07T23:52:30Z","p":1.1975,"v":107000},
{"s":"2025-09-07T18:52:30Z","e":"2025-09-07T23:52:30Z","p":1.1928,"v":47000},
{"s":"2025-09-08T00:02:30Z","e":"2025-09-08T13:32:30Z","p":1.1912,"v":215000},
{"s":"2025-09-08T00:27:30Z","e":"2025-09-08T13:32:30Z","p":1.1879,"v":118000},
{"s":"2025-09-07T22:52:30Z","e":"2025-09-07T23:47:30Z","p":1.1865,"v":47000},
{"s":"2025-09-07T20:02:30Z","e":"2025-09-07T21:12:30Z","p":1.1846,"v":100000},
{"s":"2025-09-07T21:12:30Z","e":"2025-09-07T22:02:30Z","p":1.1846,"v":125000},
{"s":"2025-09-07T22:02:30Z","e":"2025-09-07T23:42:30Z","p":1.1846,"v":150000},
{"s":"2025-09-07T23:57:30Z","e":"2025-09-08T13:32:30Z","p":1.1846,"v":205000},
{"s":"2025-09-08T00:12:30Z","e":"2025-09-08T13:32:30Z","p":1.1830,"v":61000},
{"s":"2025-09-07T20:57:30Z","e":"2025-09-07T23:37:30Z","p":1.1813,"v":107000},
{"s":"2025-09-08T00:17:30Z","e":"2025-09-08T13:32:30Z","p":1.1813,"v":100000},
{"s":"2025-09-08T00:07:30Z","e":"2025-09-08T13:32:30Z","p":1.1781,"v":136000},
{"s":"2025-09-07T23:52:30Z","e":"2025-09-08T13:32:30Z","p":1.1699,"v":168000},
{"s":"2025-09-08T00:02:30Z","e":"2025-09-08T13:32:30Z","p":1.1684,"v":143000},
{"s":"2025-09-07T16:37:30Z","e":"2025-09-07T19:47:30Z","p":1.1600,"v":100000},
{"s":"2025-09-07T23:42:30Z","e":"2025-09-07T23:57:30Z","p":1.1600,"v":72000},
{"s":"2025-09-07T23:57:30Z","e":"2025-09-08T13:32:30Z","p":1.1600,"v":168000},
{"s":"2025-09-07T14:47:30Z","e":"2025-09-07T14:57:30Z","p":1.1584,"v":47000},
{"s":"2025-09-07T14:57:30Z","e":"2025-09-07T19:47:30Z","p":1.1584,"v":100000},
{"s":"2025-09-07T16:27:30Z","e":"2025-09-07T20:02:30Z","p":1.1570,"v":150000},
{"s":"2025-09-07T23:37:30Z","e":"2025-09-08T13:32:30Z","p":1.1570,"v":107000},
{"s":"2025-09-07T17:37:30Z","e":"2025-09-07T21:37:30Z","p":1.1537,"v":47000},
{"s":"2025-09-07T18:32:30Z","e":"2025-09-08T13:32:30Z","p":1.1504,"v":86000},
{"s":"2025-09-07T18:52:30Z","e":"2025-09-07T23:52:30Z","p":1.1455,"v":61000},
{"s":"2025-09-07T23:52:30Z","e":"2025-09-08T13:32:30Z","p":1.1455,"v":90000},
{"s":"2025-09-07T22:52:30Z","e":"2025-09-08T13:32:30Z","p":1.1403,"v":43000},
{"s":"2025-09-07T20:02:30Z","e":"2025-09-07T21:12:30Z","p":1.1387,"v":107000},
{"s":"2025-09-07T21:12:30Z","e":"2025-09-07T22:02:30Z","p":1.1387,"v":136000},
{"s":"2025-09-07T22:02:30Z","e":"2025-09-08T13:32:30Z","p":1.1387,"v":161000},
{"s":"2025-09-07T16:37:30Z","e":"2025-09-08T13:32:30Z","p":1.1370,"v":54000},
{"s":"2025-09-07T14:47:30Z","e":"2025-09-07T14:57:30Z","p":1.1354,"v":29000},
{"s":"2025-09-07T14:57:30Z","e":"2025-09-07T20:57:30Z","p":1.1354,"v":47000},
{"s":"2025-09-07T20:57:30Z","e":"2025-09-07T23:42:30Z","p":1.1354,"v":118000},
{"s":"2025-09-07T23:42:30Z","e":"2025-09-08T13:32:30Z","p":1.1354,"v":143000},
{"s":"2025-09-07T16:27:30Z","e":"2025-09-07T23:37:30Z","p":1.1340,"v":72000},
{"s":"2025-09-07T23:37:30Z","e":"2025-09-08T13:32:30Z","p":1.1340,"v":100000},
{"s":"2025-09-07T17:37:30Z","e":"2025-09-08T13:32:30Z","p":1.1291,"v":29000},
{"s":"2025-09-07T18:32:30Z","e":"2025-09-08T13:32:30Z","p":1.1274,"v":54000},
{"s":"2025-09-07T18:52:30Z","e":"2025-09-08T13:32:30Z","p":1.1225,"v":25000},
{"s":"2025-09-07T22:52:30Z","e":"2025-09-08T13:32:30Z","p":1.1176,"v":25000},
{"s":"2025-09-07T20:02:30Z","e":"2025-09-08T13:32:30Z","p":1.1159,"v":61000},
{"s":"2025-09-07T20:57:30Z","e":"2025-09-08T13:32:30Z","p":1.1127,"v":47000}
]},
"mark":{"type":"rect","height":7},
"encoding":{
"x":{"field":"s","type":"temporal","scale":{"type":"utc","domain":[1757251950000,1757338350000],"padding":0},"axis":null},
"x2":{"field":"e"},
"y":{"field":"p","type":"quantitative","scale":{"domain":[1.1117,1.3724],"nice":false,"zero":false},"axis":{"orient":"right","title":null,"values":[1.3724,1.35,1.3,1.25,1.2,1.15,1.1117],"labelExpr":"format(datum.value,'.4~f')","grid":false,"domain":false,"ticks":false,"labelPadding":16,"labelFontSize":21,"labelColor":"#333333","labelFont":"Inter"}},
"color":{"field":"v","type":"quantitative","scale":{"domain":[0,46500,100000,143000,186000,229000,297000,358050],"range":["#1b0a33","#341555","#5a1f6a","#8a2f6e","#c04c6e","#e5635f","#f2ab82","#fcefba"]},
"legend":{"orient":"none","legendX":-121,"legendY":12,"title":"358.05K","titleFontSize":20,"titleColor":"#444444","titleFontWeight":400,"titlePadding":20,"titleFont":"Inter","gradientLength":1055,"gradientThickness":56,"gradientStrokeWidth":0,"values":[0],"labelFontSize":20,"labelColor":"#333333","encode":{"title":{"update":{"dx":{"value":-12}}},"labels":{"update":{"x":{"value":28},"y":{"value":1095},"align":{"value":"center"}}}}}}
}},
{"data":{"name":"candles"},"mark":{"type":"rule","strokeWidth":1.6},
"encoding":{"x":{"field":"t","type":"temporal","scale":{"type":"utc","domain":[1757251950000,1757338350000],"padding":0},"axis":null},"y":{"field":"h","type":"quantitative","title":null},"y2":{"field":"l"},"color":{"condition":{"test":"datum.c>=datum.o","value":"#06c67c"},"value":"#f6405a"}}},
{"data":{"name":"candles"},"mark":{"type":"bar","size":6.5},
"encoding":{"x":{"field":"t","type":"temporal","scale":{"type":"utc","domain":[1757251950000,1757338350000],"padding":0},"axis":null},"y":{"field":"o","type":"quantitative","title":null},"y2":{"field":"c"},"color":{"condition":{"test":"datum.c>=datum.o","value":"#06c67c"},"value":"#f6405a"}}},
{"data":{"values":[{"series":"Liquidation Leverage","t":"2025-09-07T13:35Z","p":1.3},{"series":"Supercharts","t":"2025-09-07T13:35Z","p":1.3}]},
"mark":{"type":"point","filled":true,"size":1,"opacity":0},
"encoding":{"x":{"field":"t","type":"temporal","scale":{"type":"utc","domain":[1757251950000,1757338350000],"padding":0},"axis":null},"y":{"field":"p","type":"quantitative","title":null},
"color":{"field":"series","type":"nominal","scale":{"domain":["Liquidation Leverage","Supercharts"],"range":["#3d1a5e","#00c77f"]},
"legend":{"orient":"none","legendX":942,"legendY":-61,"direction":"horizontal","title":null,"symbolType":"square","symbolSize":361,"symbolOpacity":1,"labelFontSize":21,"labelColor":"#444444","labelFont":"Inter","labelLimit":500,"columnPadding":24,"labelOffset":8}}}},
{"data":{"values":[{"label":"www.coinglass.com","t":"2025-09-08T01:28Z","p":1.2660}]},
"mark":{"type":"text","font":"Liberation Sans","fontSize":150,"color":"#000000","opacity":0.35,"align":"center","baseline":"middle"},
"encoding":{"x":{"field":"t","type":"temporal","scale":{"type":"utc","domain":[1757251950000,1757338350000],"padding":0},"axis":null},"y":{"field":"p","type":"quantitative","title":null},"text":{"field":"label"}}}
]},
{"width":2312,"height":112,
"resolve":{"scale":{"x":"independent"}},
"layer":[
{"layer":[
{"data":{"values":[{"a":"2025-09-07T13:35Z","b":"2025-09-08T13:30Z","lo":1.1075,"hi":1.3875}]},"mark":{"type":"rect","color":"#eef2fe"},
"encoding":{"x":{"field":"a","type":"temporal","scale":{"type":"utc","domain":[1757251876000,1757338236000]},"axis":null},"x2":{"field":"b"},"y":{"field":"lo","type":"quantitative","scale":{"domain":[1.1075,1.3875],"nice":false,"zero":false},"axis":null},"y2":{"field":"hi"}}},
{"data":{"name":"candles"},"mark":{"type":"area","color":"#d7e2fc"},
"encoding":{"x":{"field":"t","type":"temporal","scale":{"type":"utc","domain":[1757251876000,1757338236000]},"axis":null},"y":{"field":"c","type":"quantitative","axis":null},"y2":{"datum":1.1075}}},
{"data":{"name":"candles"},"mark":{"type":"line","color":"#a9c3f7","strokeWidth":1.5},
"encoding":{"x":{"field":"t","type":"temporal","scale":{"type":"utc","domain":[1757251876000,1757338236000]},"axis":null},"y":{"field":"c","type":"quantitative","axis":null}}},
{"data":{"values":[{"label":"© 2025 CoinGlass, all rights reserved","t":"2025-09-07T12:32Z","p":1.1675}]},"mark":{"type":"text","font":"Liberation Sans","fontSize":45,"color":"#777f8c","opacity":0.28,"align":"left","baseline":"middle"},
"encoding":{"x":{"field":"t","type":"temporal","scale":{"type":"utc","domain":[1757251876000,1757338236000]},"axis":null},"y":{"field":"p","type":"quantitative","axis":null},"text":{"field":"label"}}},
{"data":{"values":[{"label":"2025-09-08 13:38:25","t":"2025-09-08T14:20Z","p":1.1675}]},"mark":{"type":"text","font":"Liberation Sans","fontSize":45,"color":"#777f8c","opacity":0.28,"align":"right","baseline":"middle"},
"encoding":{"x":{"field":"t","type":"temporal","scale":{"type":"utc","domain":[1757251876000,1757338236000]},"axis":null},"y":{"field":"p","type":"quantitative","axis":null},"text":{"field":"label"}}},
{"data":{"values":[{"t":"2025-09-07T13:35Z","p":1.2425,"g":"II"},{"t":"2025-09-08T13:30Z","p":1.2425,"g":"II"}]},"mark":{"type":"rect","width":26,"height":33,"color":"#2c3340","cornerRadius":10},
"encoding":{"x":{"field":"t","type":"temporal","scale":{"type":"utc","domain":[1757251876000,1757338236000]},"axis":null},"y":{"field":"p","type":"quantitative","axis":null}}},
{"data":{"values":[{"t":"2025-09-07T13:35Z","p":1.2425,"g":"II"},{"t":"2025-09-08T13:30Z","p":1.2425,"g":"II"}]},"mark":{"type":"text","fontSize":15,"color":"#8f95a3","align":"center","baseline":"middle"},
"encoding":{"x":{"field":"t","type":"temporal","scale":{"type":"utc","domain":[1757251876000,1757338236000]},"axis":null},"y":{"field":"p","type":"quantitative","axis":null},"text":{"field":"g"}}}
]},
{"data":{"values":[{"t":"2025-09-07T13:35Z"}]},"mark":{"type":"rule","opacity":0},
"encoding":{"x":{"field":"t","type":"temporal","scale":{"type":"utc","domain":[1757251950000,1757338500000]},
"axis":{"orient":"top","title":null,"values":[1757252100000,1757256600000,1757261100000,1757265600000,1757270100000,1757274600000,1757279100000,1757283600000,1757288100000,1757292600000,1757297100000,1757301600000,1757306100000,1757310600000,1757315100000,1757319600000,1757324100000,1757328600000,1757333100000,1757337600000],"format":"%d, %H:%M","grid":false,"domain":false,"ticks":false,"labelPadding":-15,"labelFontSize":21,"labelColor":"#333333","labelFont":"Inter","labelOverlap":false,"labelFlush":false,"zindex":1}}}}
]}
]}
